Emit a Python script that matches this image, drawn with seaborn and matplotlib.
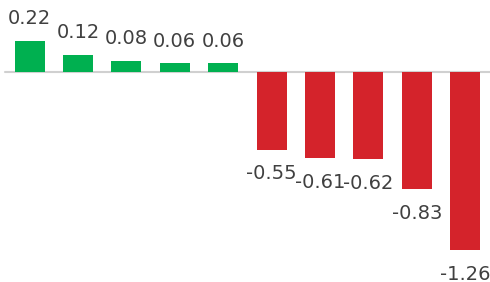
import matplotlib
matplotlib.use("Agg")
import matplotlib.pyplot as plt
import seaborn as sns
import pandas as pd

categories = ["C1", "C2", "C3", "C4", "C5", "C6", "C7", "C8", "C9", "C10"]
values = [0.22, 0.12, 0.08, 0.06, 0.06, -0.55, -0.61, -0.62, -0.83, -1.26]
labels = ["0.22", "0.12", "0.08", "0.06", "0.06", "-0.55", "-0.61", "-0.62", "-0.83", "-1.26"]

POS = "#00b050"
NEG = "#d4232b"

sns.set_theme(style="white")
plt.rcParams["font.family"] = ["DejaVu Sans"]

df = pd.DataFrame({"cat": categories, "val": values})
colors = [POS if v >= 0 else NEG for v in values]

fig = plt.figure(figsize=(4.9, 2.82), dpi=100)
ax = fig.add_axes([0, 0, 1, 1])
sns.barplot(data=df, x="cat", y="val", hue="cat", order=categories,
            palette=colors, width=0.62, legend=False, ax=ax,
            edgecolor="none", saturation=1)

ax.set_xlim(-0.61, 9.51)
ax.set_ylim(-1.489, 0.51)
ax.axhline(0, xmin=(-0.505 + 0.61) / 10.12, xmax=1, color="#d0d0d0", lw=1.5, zorder=0)

for i, (v, t) in enumerate(zip(values, labels)):
    off = 16 if v >= 0 else -17.5
    ax.annotate(t, (i, v), xytext=(0, off), textcoords="offset points",
                ha="center", va="center", fontsize=14, color="#404040")

ax.axis("off")
fig.savefig("out.png", dpi=100)
